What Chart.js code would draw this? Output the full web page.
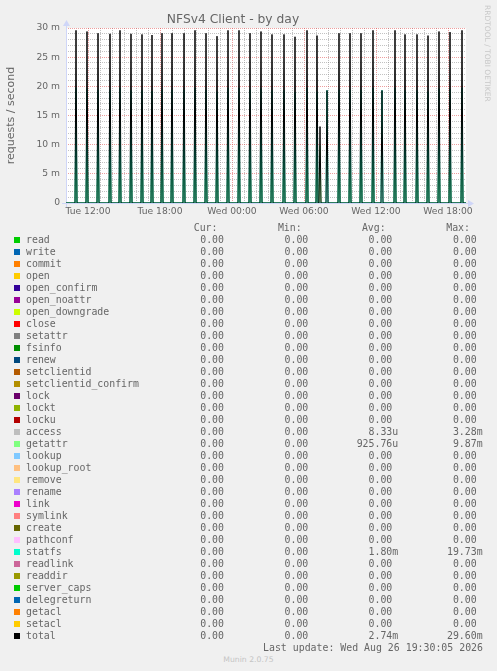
<!DOCTYPE html>
<html>
<head>
<meta charset="utf-8">
<title>NFSv4 Client - by day</title>
<script src="https://cdn.jsdelivr.net/npm/chart.js@4.4.1/dist/chart.umd.min.js"></script>
<style>
	html, body { margin: 0; padding: 0; background: #f0f0f0; }
	#page { position: relative; width: 497px; height: 671px; overflow: hidden; color: #666666; font-family: "DejaVu Sans", sans-serif; }
	#wrapper-nfs { position: absolute; left: 0; top: 0; width: 497px; height: 223px; }
	.txt { position: absolute; white-space: pre; line-height: 12px; height: 12px; }
	.mono { font-family: "DejaVu Sans Mono", monospace; font-size: 9.9px; }
	.swatch { position: absolute; width: 6px; height: 6px; }
	#watermark { position: absolute; left: 483px; top: 5px; writing-mode: vertical-rl; font-size: 7.5px; line-height: 9px; color: #c8c8c8; white-space: pre; }
	#version { position: absolute; left: 0; width: 497px; top: 655px; text-align: center; font-size: 7.7px; line-height: 10px; color: #c4c4c4; }
</style>
</head>
<body>
<div id="page">
	<div id="wrapper-nfs">
		<canvas id="lc-nfs-client" width="497" height="223"></canvas>
	</div>
	<div id="legend"></div>
	<div id="watermark">RRDTOOL / TOBI OETIKER</div>
	<div id="version">Munin 2.0.75</div>
</div>
<script>
// time axis in minutes from Tue 00:00, one pixel = one 5 minute sample
const startMinute = 610; // Tue 10:10
const endMinute = 2610; // Wed 19:30

// spikes seen on the graph (minutes), values in milli requests / second
const spikeTimes = [660, 715, 770, 830, 880, 935, 990, 1040, 1090, 1140, 1200, 1255, 1310, 1365, 1420, 1475, 1530, 1585, 1640, 1700, 1755, 1815, 1865, 1880, 1915, 1975, 2030, 2085, 2145, 2190, 2255, 2305, 2365, 2420, 2475, 2530, 2590];
const totalPeaks = [29.6, 29.4, 29.1, 29.0, 29.6, 29.0, 28.9, 28.8, 29.1, 29.1, 29.1, 29.6, 29.1, 28.6, 29.6, 29.6, 29.1, 29.4, 28.9, 28.9, 28.5, 29.6, 28.7, 13.1, 19.3, 29.1, 29.1, 29.1, 29.6, 19.3, 29.6, 28.9, 28.9, 28.7, 29.4, 29.3, 29.6];
const statfsPeaks = [19.73, 19.6, 19.4, 19.3, 19.73, 19.3, 19.3, 19.2, 19.4, 19.4, 19.4, 19.73, 19.4, 19.1, 19.73, 19.73, 19.4, 19.6, 19.3, 19.3, 19.0, 19.73, 19.1, 0, 19.3, 19.4, 19.4, 19.4, 19.73, 19.3, 19.73, 19.3, 19.3, 19.1, 19.6, 19.5, 19.73];
const getattrPeaks = [9.87, 9.8, 9.7, 9.7, 9.87, 9.7, 9.6, 9.6, 9.7, 9.7, 9.7, 9.87, 9.7, 9.5, 9.87, 9.87, 9.7, 9.8, 9.6, 9.6, 9.5, 9.87, 9.6, 9.82, 0, 9.7, 9.7, 9.7, 9.87, 0, 9.87, 9.6, 9.6, 9.6, 9.8, 9.8, 9.87];
const accessTimes = [1880];
const accessPeaks = [3.28];

// x labels every 6 hours
const dayNames = ["Tue", "Wed"];

// legend table
const legendNames = ["read", "write", "commit", "open", "open_confirm", "open_noattr", "open_downgrade", "close", "setattr", "fsinfo", "renew", "setclientid", "setclientid_confirm", "lock", "lockt", "locku", "access", "getattr", "lookup", "lookup_root", "remove", "rename", "link", "symlink", "create", "pathconf", "statfs", "readlink", "readdir", "server_caps", "delegreturn", "getacl", "setacl", "total"];
const legendColors = ["#00CC00", "#0066B3", "#FF8000", "#FFCC00", "#330099", "#990099", "#CCFF00", "#FF0000", "#808080", "#008F00", "#00487D", "#B35A00", "#B38F00", "#6B006B", "#8FB300", "#B30000", "#BEBEBE", "#80FF80", "#80C9FF", "#FFC080", "#FFE680", "#AA80FF", "#EE00CC", "#FF8080", "#666600", "#FFBFFF", "#00FFCC", "#CC6699", "#999900", "#00CC00", "#0066B3", "#FF8000", "#FFCC00", "#000000"];
const legendCur = ["0.00", "0.00", "0.00", "0.00", "0.00", "0.00", "0.00", "0.00", "0.00", "0.00", "0.00", "0.00", "0.00", "0.00", "0.00", "0.00", "0.00", "0.00", "0.00", "0.00", "0.00", "0.00", "0.00", "0.00", "0.00", "0.00", "0.00", "0.00", "0.00", "0.00", "0.00", "0.00", "0.00", "0.00"];
const legendMin = ["0.00", "0.00", "0.00", "0.00", "0.00", "0.00", "0.00", "0.00", "0.00", "0.00", "0.00", "0.00", "0.00", "0.00", "0.00", "0.00", "0.00", "0.00", "0.00", "0.00", "0.00", "0.00", "0.00", "0.00", "0.00", "0.00", "0.00", "0.00", "0.00", "0.00", "0.00", "0.00", "0.00", "0.00"];
const legendAvg = ["0.00", "0.00", "0.00", "0.00", "0.00", "0.00", "0.00", "0.00", "0.00", "0.00", "0.00", "0.00", "0.00", "0.00", "0.00", "0.00", "8.33u", "925.76u", "0.00", "0.00", "0.00", "0.00", "0.00", "0.00", "0.00", "0.00", "1.80m", "0.00", "0.00", "0.00", "0.00", "0.00", "0.00", "2.74m"];
const legendMax = ["0.00", "0.00", "0.00", "0.00", "0.00", "0.00", "0.00", "0.00", "0.00", "0.00", "0.00", "0.00", "0.00", "0.00", "0.00", "0.00", "3.28m", "9.87m", "0.00", "0.00", "0.00", "0.00", "0.00", "0.00", "0.00", "0.00", "19.73m", "0.00", "0.00", "0.00", "0.00", "0.00", "0.00", "29.60m"];
const legendHeaders = ["Cur:", "Min:", "Avg:", "Max:"];
const lastUpdate = "Last update: Wed Aug 26 19:30:05 2026";

// build a line that sits on zero and jumps to each peak for one sample
function spikeSeries(times, peaks) {
	let pts = [{ x: startMinute, y: 0 }];
	times.forEach((t, idx) => {
		if (!peaks[idx]) return;
		pts.push({ x: t - 5, y: 0 }, { x: t, y: peaks[idx] }, { x: t + 5, y: 0 });
	});
	pts.push({ x: endMinute, y: 0 });
	return pts;
}

function lineSet(label, color, pts) {
	return {
		label: label,
		data: pts,
		borderColor: color,
		backgroundColor: color,
		borderWidth: 1,
		pointRadius: 0,
		tension: 0,
		fill: false,
	};
}

// white canvas behind the plot, axis lines and the little arrows
const muninFrame = {
	id: "muninFrame",
	beforeDraw(chart) {
		const { ctx, chartArea: a } = chart;
		ctx.save();
		ctx.fillStyle = "#ffffff";
		ctx.fillRect(a.left, a.top, a.right - a.left, a.bottom - a.top);
		ctx.restore();
	},
	beforeDatasetsDraw(chart) {
		const { ctx, chartArea: a } = chart;
		ctx.save();
		ctx.strokeStyle = "#CFD6F8";
		ctx.fillStyle = "#CFD6F8";
		ctx.lineWidth = 1;
		ctx.beginPath();
		ctx.moveTo(a.left - 4, a.bottom + 0.5);
		ctx.lineTo(a.right + 4, a.bottom + 0.5);
		ctx.moveTo(a.left + 0.5, a.bottom + 4);
		ctx.lineTo(a.left + 0.5, a.top - 4);
		ctx.stroke();
		ctx.beginPath();
		ctx.moveTo(a.right + 2, a.bottom - 3);
		ctx.lineTo(a.right + 2, a.bottom + 4);
		ctx.lineTo(a.right + 8, a.bottom + 0.5);
		ctx.closePath();
		ctx.fill();
		ctx.beginPath();
		ctx.moveTo(a.left - 3, a.top - 2);
		ctx.lineTo(a.left + 4, a.top - 2);
		ctx.lineTo(a.left + 0.5, a.top - 8);
		ctx.closePath();
		ctx.fill();
		ctx.restore();
	},
};

Chart.defaults.font.family = "'DejaVu Sans', sans-serif";
Chart.defaults.color = "#666666";

const minorGrid = "rgba(143, 143, 143, 0.55)";
const majorGrid = "rgba(222, 79, 79, 0.55)";

new Chart(document.getElementById("lc-nfs-client").getContext("2d"), {
	type: "line",
	data: {
		datasets: [
			lineSet("total", "#000000", spikeSeries(spikeTimes, totalPeaks)),
			lineSet("statfs", "#00FFCC", spikeSeries(spikeTimes, statfsPeaks)),
			lineSet("getattr", "#80FF80", spikeSeries(spikeTimes, getattrPeaks)),
			lineSet("access", "#BEBEBE", spikeSeries(accessTimes, accessPeaks)),
		],
	},
	options: {
		responsive: false,
		animation: false,
		devicePixelRatio: 1,
		layout: { padding: { left: 0, right: 31, top: 0, bottom: 0 } },
		plugins: {
			legend: { display: false },
			tooltip: { enabled: false },
			title: {
				display: true,
				text: "NFSv4 Client - by day",
				color: "#666666",
				font: { size: 12.3, weight: "normal" },
				padding: { top: 12, bottom: 1.24 },
			},
		},
		scales: {
			x: {
				type: "linear",
				min: startMinute,
				max: endMinute,
				afterFit: (s) => { s.height = 20; },
				ticks: {
					stepSize: 60,
					autoSkip: false,
					maxRotation: 0,
					minRotation: 0,
					padding: 3,
					color: "#666666",
					font: { size: 9.2 },
					callback: function (value) {
						if (value % 360 !== 0) return "";
						let h = value % 1440;
						return dayNames[Math.floor(value / 1440)] + " " + String(h / 60).padStart(2, "0") + ":00";
					},
				},
				grid: {
					drawTicks: false,
					lineWidth: 1,
					color: (ctx) => {
						let v = ctx.tick ? ctx.tick.value : 0;
						if (v % 60 !== 0) return "rgba(0,0,0,0)";
						return v % 360 === 0 ? majorGrid : minorGrid;
					},
				},
				border: { display: false, dash: [1, 1] },
			},
			y: {
				min: 0,
				max: 30,
				afterFit: (s) => { s.width = 66; },
				title: {
					display: true,
					text: "requests / second",
					color: "#666666",
					font: { size: 11 },
					padding: { top: 4.5, bottom: 0 },
				},
				ticks: {
					stepSize: 1,
					autoSkip: false,
					padding: 6,
					color: "#666666",
					font: { size: 9.2 },
					callback: function (value) {
						if (value % 5 !== 0) return "";
						return value === 0 ? "0" : value + " m";
					},
				},
				grid: {
					drawTicks: false,
					lineWidth: 1,
					color: (ctx) => {
						let v = ctx.tick ? ctx.tick.value : 0;
						if (v === 0) return "rgba(0,0,0,0)";
						return v % 5 === 0 ? majorGrid : minorGrid;
					},
				},
				border: { display: false, dash: [1, 1] },
			},
		},
	},
	plugins: [muninFrame],
});

// legend table below the graph
const legendBox = document.getElementById("legend");
const rowTop = 239.7;
const rowStep = 12;
const numberEnds = [224, 308.3, 392.3, 476.7];
const headerEnds = [217.5, 301.7, 385.7, 470];

function addText(text, x, yCenter, align) {
	let el = document.createElement("div");
	el.className = "txt mono";
	el.textContent = text;
	el.style.top = yCenter - 6 + "px";
	if (align === "right") el.style.right = 497 - x + "px";
	else el.style.left = x + "px";
	legendBox.appendChild(el);
}

function addValue(str, endX, yCenter) {
	let m = str.match(/^([\d.]+)(\D?)$/);
	addText(m[1], endX, yCenter, "right");
	if (m[2]) addText(m[2], endX, yCenter, "left");
}

legendHeaders.forEach((h, idx) => addText(h, headerEnds[idx], 228, "right"));

legendNames.forEach((name, idx) => {
	let y = rowTop + idx * rowStep;
	let sw = document.createElement("div");
	sw.className = "swatch";
	sw.style.left = "14px";
	sw.style.top = y - 3 + "px";
	sw.style.background = legendColors[idx];
	legendBox.appendChild(sw);

	addText(name, 26, y, "left");
	addValue(legendCur[idx], numberEnds[0], y);
	addValue(legendMin[idx], numberEnds[1], y);
	addValue(legendAvg[idx], numberEnds[2], y);
	addValue(legendMax[idx], numberEnds[3], y);
});

addText(lastUpdate, 483, 647.7, "right");
</script>
</body>
</html>
